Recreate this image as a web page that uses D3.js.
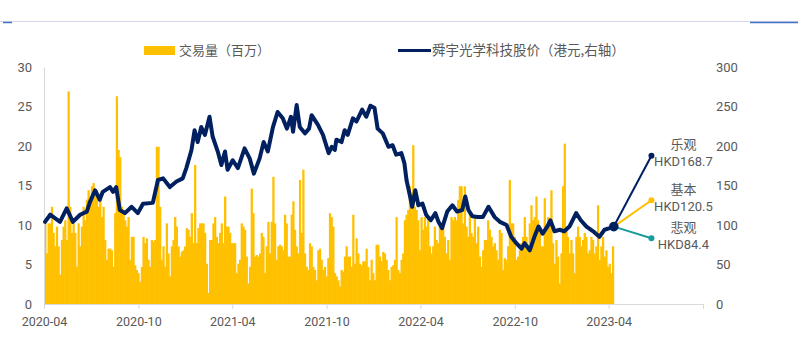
<!DOCTYPE html>
<html>
<head>
<meta charset="utf-8">
<script src="https://cdn.jsdelivr.net/npm/d3@7/dist/d3.min.js"></script>
<style>
  html, body { margin: 0; padding: 0; background: #fff; }
  svg { display: block; }
  .cjk { font-family: "Noto Sans CJK SC", "Noto Sans", sans-serif; }
  .num { font-family: Roboto, "Open Sans", sans-serif; }
</style>
</head>
<body>
<svg id="chart" width="798" height="355"></svg>
<script>
// ---------------- DATA ----------------
const legendLabels = ["交易量（百万）", "舜宇光学科技股价（港元,右轴）"];
const xTickLabels = ["2020-04", "2020-10", "2021-04", "2021-10", "2022-04", "2022-10", "2023-04", "2023-10"];
const leftTicks = [0, 5, 10, 15, 20, 25, 30];
const rightTicks = [0, 50, 100, 150, 200, 250, 300];

// Trading volume (millions of shares), evenly spaced from volStart to volEnd
const volStart = "2020-04-03";
const volEnd = "2023-04-09";
const volumes = [
  10.6, 6.4, 10.2, 10.2, 12.3, 9, 7.3, 9.8, 7.3, 3.7, 8.1, 9.8, 10.6, 8.1, 26.9, 12.3, 9, 10.2, 9, 4.7,
  10.2, 7.3, 9.8, 12.3, 10.6, 13.2, 14.4, 13.2, 14.9, 15.3, 14, 14.4, 12.3, 13.2, 11, 12.3, 8.1, 5.6, 7, 7,
  6.8, 4.7, 11.5, 26.3, 19.5, 18.6, 12.3, 11.9, 10.6, 9.8, 11, 5.6, 8.5, 8.5, 4.9, 4.3, 3.9, 2.8, 4.7, 8.5,
  7.7, 8.3, 5.6, 4.7, 8.1, 7.9, 8.1, 19.9, 19.9, 12.3, 5.6, 7.3, 4.7, 10.2, 6.4, 3.5, 7.3, 8.1, 11, 9.8,
  7.3, 6, 6.6, 6.8, 7.3, 9.6, 9.4,
  8.5, 11.5, 7.7, 17.6, 7.7, 9.6, 10.2, 10.2, 10.2, 9, 5.1, 1.4, 8.1, 8.1, 10.2, 11, 8.5, 7.7, 9, 10.2,
  7.7, 13.6, 9.8, 9.8, 9, 7.7, 7.7, 7.7, 3.9, 5.1, 5.6, 10.2, 9.8, 9.4, 6, 2.6, 4.7, 14.6, 11.5, 6,
  6.2, 6, 6.4, 9, 8.5, 3.9, 7.3, 10.4, 6.4, 10.4, 16.1, 10.2, 5.6, 7.3, 7.5, 7.3, 6.8, 11.3, 10.2, 6,
  6, 11.3, 13, 9.4, 7.3, 6.4, 15.7, 9, 17, 6.4, 4.7, 4.3, 7.7, 7.3, 4.7, 4.3, 3, 6.8, 7, 5.6,
  4.3, 4.7, 3.5, 5.8, 11.5, 11, 9.8,
  3.9, 3.5, 3, 2.2, 4.3, 4.1, 6, 7.3, 6, 6, 4.7, 11.3, 5.1, 8.3, 6.4, 5.1, 4.9, 5.4, 5.4, 7,
  4.7, 3, 5.6, 3.9, 3, 7.5, 7.5, 6, 5.4, 6.6, 6.4, 5.6, 4.3, 3, 4.7, 4.9, 5.6, 11, 4.3, 3.9,
  5.6, 6.4, 10.6, 11.3, 11.9, 14.9, 14, 20.1, 12.3, 11.9, 10.6, 6.8, 11, 9.4, 11, 9.8, 11, 7.3, 6.4, 7.3,
  9.8, 8.1, 7.7, 9.8, 9.6, 9.8, 8.5, 6.4, 8.1, 5.6, 11, 10.6, 11, 10.6, 13.2, 14.9, 14.9, 10.2, 14.9, 9.8,
  8.5, 11.5, 9, 8.5, 11, 7.7, 9.8,
  6, 4.7, 6.8, 8.1, 8.1, 10.6, 9.4, 8.5, 7.3, 7.7, 6.8, 5.6, 9.4, 9, 4.3, 5.8, 5.6, 7.3, 15.7, 10.2,
  10.2, 8.5, 5.6, 6, 6.8, 7.7, 8.5, 11, 8.5, 7.3, 10.2, 12.5, 10.6, 11, 13.6, 10.6, 9, 7.3, 7.3, 13.4,
  9.8, 11, 10.2, 14.4, 7.7, 5.1, 8.1, 6, 2.6, 6.4, 14.9, 20.3, 9.4, 8.5, 6.4, 8.1, 6.4, 3.9, 8.5, 9.8,
  8.5, 7.3, 8.1, 9, 8.5, 6.4, 6.8, 8.5, 8.1, 6.4, 7.3, 12.5, 5.6, 7.3, 8.5, 6, 6.8, 4.7, 5.1, 3.9,
  7.3
];

// Share price (HKD, right axis)
const priceDates = [
  "2020-04-03","2020-04-13","2020-05-02","2020-05-15","2020-05-27","2020-06-10","2020-06-23","2020-06-29","2020-07-09","2020-07-18",
  "2020-07-24","2020-08-07","2020-08-13","2020-08-19","2020-08-26","2020-09-05","2020-09-18","2020-09-30","2020-10-10","2020-10-29",
  "2020-11-08","2020-11-18","2020-12-01","2020-12-14","2020-12-26","2021-01-02","2021-01-12","2021-01-18","2021-01-24","2021-01-31",
  "2021-02-07","2021-02-16","2021-02-22","2021-03-04","2021-03-11","2021-03-18","2021-03-23","2021-04-02","2021-04-12","2021-04-25",
  "2021-05-05","2021-05-13","2021-05-24","2021-06-01","2021-06-09","2021-06-19","2021-06-28","2021-07-08","2021-07-16","2021-07-24",
  "2021-07-28","2021-08-04","2021-08-10","2021-08-20","2021-08-28","2021-09-02","2021-09-14","2021-09-24","2021-10-05","2021-10-11",
  "2021-10-17","2021-10-20","2021-10-30","2021-11-05","2021-11-11","2021-11-21","2021-11-28","2021-12-09","2021-12-17","2021-12-25",
  "2022-01-02","2022-01-08","2022-01-18","2022-01-29","2022-02-06","2022-02-13","2022-02-23","2022-03-01","2022-03-05","2022-03-12",
  "2022-03-16","2022-03-22","2022-03-28","2022-04-05","2022-04-12","2022-04-21","2022-04-30","2022-05-06","2022-05-13","2022-05-23",
  "2022-06-02","2022-06-11","2022-06-21","2022-06-27","2022-07-03","2022-07-11","2022-07-21","2022-07-31","2022-08-11","2022-08-23",
  "2022-09-02","2022-09-15","2022-09-24","2022-10-04","2022-10-14","2022-10-20","2022-10-30","2022-11-08","2022-11-16","2022-11-24",
  "2022-12-03","2022-12-09","2022-12-17","2022-12-27","2023-01-05","2023-01-15","2023-01-28","2023-02-06","2023-02-17","2023-03-02",
  "2023-03-14","2023-03-24","2023-04-03","2023-04-11"
];
const priceValues = [
  104, 113, 104, 121, 104, 113, 117, 129, 144, 132,
  142, 148, 142, 148, 119, 115, 123, 115, 127, 128,
  157, 159, 148, 155, 159, 172, 195, 220, 205, 224,
  214, 237, 212, 193, 176, 193, 170, 182, 172, 197,
  184, 165, 184, 205, 193, 224, 243, 235, 222, 237,
  218, 252, 224, 216, 222, 239, 227, 214, 191, 199,
  195, 208, 205, 220, 214, 235, 231, 246, 237, 251,
  248, 222, 216, 199, 201, 189, 191, 178, 157, 136,
  123, 144, 125, 127, 113, 106, 115, 104, 96, 117,
  125, 117, 119, 136, 119, 111, 110, 110, 123, 110,
  104, 100, 85, 77, 70, 77, 68, 85, 98, 89,
  98, 106, 92, 94, 92, 98, 115, 106, 98, 92,
  85, 94, 96, 98
];

// Scenario projections
const scenarioNames = ["乐观", "基本", "悲观"];
const scenarioLabels = ["HKD168.7", "HKD120.5", "HKD84.4"];
const scenarioPlotValues = [187.7, 131.3, 83.2];   // where the end dots sit on the right axis
const scenarioStart = { date: "2023-04-11", value: 98 };
const scenarioEndDate = "2023-06-23";

// ---------------- DRAW ----------------
const parse = d3.timeParse("%Y-%m-%d");
const parseM = d3.timeParse("%Y-%m");
const svg = d3.select("#chart");

const colors = { bar: "#FFC000", line: "#002060", bull: "#002060", base: "#FFC000", bear: "#1A9C9C", text: "#595959", axis: "#D9D9D9" };
const scenarioColors = [colors.bull, colors.base, colors.bear];

const plot = { left: 44, right: 703, top: 67, bottom: 304 };

const x = d3.scaleTime()
  .domain([parseM("2020-04"), parseM("2023-10")])
  .range([plot.left, plot.right]);
const yL = d3.scaleLinear().domain([0, 30]).range([plot.bottom, plot.top]);
const yR = d3.scaleLinear().domain([0, 300]).range([plot.bottom, plot.top]);

// top decoration lines
svg.append("line").attr("x1", 0).attr("x2", 798).attr("y1", 21.5).attr("y2", 21.5)
  .attr("stroke", "#D6D6EA").attr("stroke-width", 1);
svg.append("line").attr("x1", 3).attr("x2", 12).attr("y1", 22.5).attr("y2", 22.5)
  .attr("stroke", "#4472C4").attr("stroke-width", 1.5);
svg.append("line").attr("x1", 750).attr("x2", 798).attr("y1", 22.5).attr("y2", 22.5)
  .attr("stroke", "#4472C4").attr("stroke-width", 1.5);

// bars
const n = volumes.length;
const idxToDate = d3.scaleLinear().domain([0, n - 1]).range([parse(volStart), parse(volEnd)]);
const barW = x(idxToDate(1)) - x(idxToDate(0));
svg.append("g").selectAll("rect").data(volumes).join("rect")
  .attr("x", (d, i) => x(idxToDate(i)) - barW / 2)
  .attr("width", barW + 0.6)
  .attr("y", d => yL(d))
  .attr("height", d => yL(0) - yL(d))
  .attr("fill", colors.bar);

// axes
const xAxis = d3.axisBottom(x)
  .tickValues(xTickLabels.map(parseM))
  .tickFormat(d => { const s = d3.timeFormat("%Y-%m")(d); return s === "2023-10" ? "" : s; })
  .tickSize(5).tickSizeOuter(0).tickPadding(8);
const gx = svg.append("g").attr("transform", `translate(0,${plot.bottom})`).call(xAxis);
gx.select(".domain").attr("stroke", colors.axis);
gx.selectAll(".tick line").attr("stroke", colors.axis);
gx.selectAll("text").attr("class", "num").attr("fill", colors.text).style("font-size", "12.5px");

const yAxisL = d3.axisLeft(yL).tickValues(leftTicks).tickSize(0).tickPadding(12).tickSizeOuter(0);
const gyl = svg.append("g").attr("transform", `translate(${plot.left},0)`).call(yAxisL);
gyl.select(".domain").attr("stroke", colors.axis);
gyl.selectAll("text").attr("class", "num").attr("fill", colors.text).style("font-size", "13px");

const yAxisR = d3.axisRight(yR).tickValues(rightTicks).tickSize(0).tickPadding(13);
const gyr = svg.append("g").attr("transform", `translate(${plot.right},0)`).call(yAxisR);
gyr.select(".domain").remove();
gyr.selectAll("text").attr("class", "num").attr("fill", colors.text).style("font-size", "13px");

// price line
const priceData = priceDates.map((d, i) => ({ date: parse(d), value: priceValues[i] }));
svg.append("path").datum(priceData)
  .attr("fill", "none")
  .attr("stroke", colors.line)
  .attr("stroke-width", 4)
  .attr("stroke-linejoin", "round")
  .attr("stroke-linecap", "round")
  .attr("d", d3.line().x(d => x(d.date)).y(d => yR(d.value)));

// scenarios
const sx0 = x(parse(scenarioStart.date)), sy0 = yR(scenarioStart.value);
const sx1 = x(parse(scenarioEndDate));
scenarioNames.forEach((name, i) => {
  const ey = yR(scenarioPlotValues[i]);
  svg.append("line").attr("x1", sx0).attr("y1", sy0).attr("x2", sx1).attr("y2", ey)
    .attr("stroke", scenarioColors[i]).attr("stroke-width", 2);
  svg.append("circle").attr("cx", sx1).attr("cy", ey).attr("r", 3).attr("fill", scenarioColors[i]);
  svg.append("text").attr("class", "cjk").attr("x", sx1 + 32).attr("y", ey - 6.5)
    .attr("text-anchor", "middle").attr("fill", colors.text).style("font-size", "13px").text(name);
  svg.append("text").attr("class", "num").attr("x", sx1 + 32).attr("y", ey + 10.5)
    .attr("text-anchor", "middle").attr("fill", colors.text).style("font-size", "13px").text(scenarioLabels[i]);
});
svg.append("circle").attr("cx", sx0).attr("cy", sy0).attr("r", 4.8).attr("fill", colors.line);

// legend
svg.append("rect").attr("x", 144).attr("y", 46).attr("width", 31).attr("height", 9).attr("fill", colors.bar);
svg.append("text").attr("class", "cjk").attr("x", 179).attr("y", 54.5)
  .attr("fill", colors.text).style("font-size", "13px").text(legendLabels[0]);
svg.append("line").attr("x1", 398).attr("x2", 431).attr("y1", 50.5).attr("y2", 50.5)
  .attr("stroke", colors.line).attr("stroke-width", 3);
svg.append("text").attr("class", "cjk").attr("x", 432).attr("y", 54.5)
  .attr("fill", colors.text).style("font-size", "13.5px").text(legendLabels[1]);
</script>
</body>
</html>
